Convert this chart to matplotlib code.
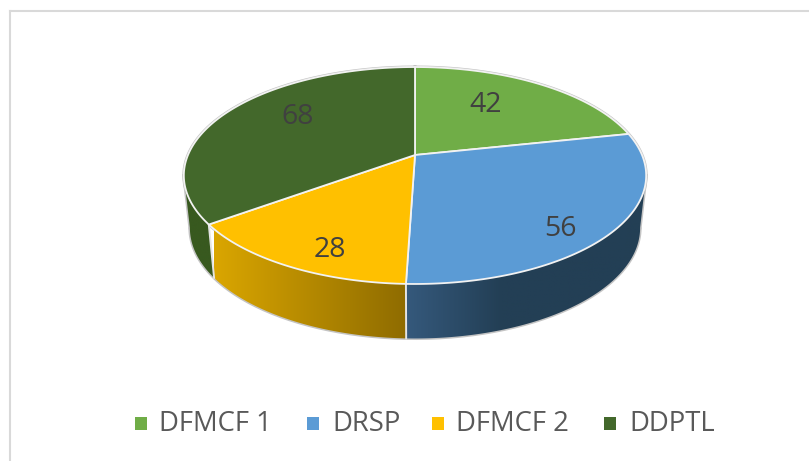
import numpy as np
import matplotlib
matplotlib.use("Agg")
import matplotlib.pyplot as plt
from matplotlib.colors import LinearSegmentedColormap
from matplotlib.patches import Polygon, Rectangle

categories = ["DFMCF 1", "DRSP", "DFMCF 2", "DDPTL"]
values = [42, 56, 28, 68]
colors = ["#70AD47", "#5B9BD5", "#FFC000", "#43682B"]

W, H = 809, 461
CX = 415
TOP = dict(a=227.0, b=104.6, cy=155.0, k=0.189)
BOT = dict(a=221.0, b=106.5, cy=207.0, k=0.19)


def project(theta, g):
    u, v = np.sin(theta), np.cos(theta)
    d = 1 + g["k"] * v
    return CX + g["a"] * u / d, g["cy"] - g["b"] * v / d


fig = plt.figure(figsize=(W / 100, H / 100), dpi=100)
ax = fig.add_axes([0, 0, 1, 1])
ax.axis("off")

# chart frame
ax.plot([10.5, 10.5], [H + 2, 11.5], color="#D9D9D9", lw=1.5, zorder=1)
ax.plot([10.5, W + 2], [11.5, 11.5], color="#D9D9D9", lw=1.5, zorder=1)

edges = np.radians(np.concatenate([[0], np.cumsum(values)]) * 360 / sum(values))
silhouette = np.pi - np.arccos(TOP["k"])  # side wall visible from here on
silhouette_end = 2 * np.pi - silhouette

# shading of each visible wall: (x start, x end, colour stops)
side_specs = {
    1: (406, 650, [(0.0, "#35597C"), (0.39, "#233F55"), (1.0, "#233F55")]),
    2: (214, 406, [(0.0, "#DAA600"), (1.0, "#8F6C00")]),
    3: (185, 214, [(0.0, "#38591F"), (1.0, "#38591F")]),
}

# outer grey outline of whole body
t_all = np.linspace(0, 2 * np.pi, 400)
tx, ty = project(t_all, TOP)
ts = np.linspace(silhouette, silhouette_end, 200)
bx, by = project(ts, BOT)
sx, sy = project(np.array([silhouette, silhouette_end]), TOP)
outline = dict(color="#C4C4C4", lw=2.2, zorder=2)
ax.plot(bx, by, solid_capstyle="round", **outline)
ax.plot([sx[0], bx[0]], [sy[0], by[0]], **outline)
ax.plot([sx[1], bx[-1]], [sy[1], by[-1]], **outline)
ax.plot(tx, ty, **outline)

# side walls: a horizontal gradient clipped to the wall's outline
for i, (x0, x1, stops) in side_specs.items():
    t0 = max(edges[i], silhouette)
    t1 = min(edges[i + 1], silhouette_end)
    ts = np.linspace(t0, t1, 200)
    xt, yt = project(ts, TOP)
    xb, yb = project(ts, BOT)
    pts = np.column_stack([np.r_[xt, xb[::-1]], np.r_[yt, yb[::-1]]])
    patch = Polygon(pts, closed=True, fc="none", ec="none", zorder=3)
    ax.add_patch(patch)
    cmap = LinearSegmentedColormap.from_list(f"wall{i}", stops)
    im = ax.imshow(np.linspace(0, 1, 256)[None, :], cmap=cmap, vmin=0, vmax=1,
                   extent=(x0, x1, 345, 170), aspect="auto", zorder=3,
                   interpolation="bilinear")
    im.set_clip_path(patch)
    if edges[i] >= silhouette:
        xe, ye = project(np.array([t0]), TOP)
        xf, yf = project(np.array([t0]), BOT)
        ax.plot([xe[0], xf[0]], [ye[0], yf[0]], color="#E4E4E4", lw=1.4, zorder=4)

# top face
for i, c in enumerate(colors):
    ts = np.linspace(edges[i], edges[i + 1], 200)
    x, y = project(ts, TOP)
    pts = np.column_stack([np.r_[CX, x], np.r_[TOP["cy"], y]])
    ax.add_patch(Polygon(pts, closed=True, fc=c, ec="#F2F2F2", lw=1.3,
                         joinstyle="round", zorder=5))

# data labels
label_xy = [(486, 105), (560, 229), (330, 250), (298, 117)]
for (lx, ly), val in zip(label_xy, values):
    ax.text(lx, ly, str(val), ha="center", va="center", fontsize=20.5,
            family="Open Sans", color="#404040", zorder=6)

# legend
marker_x = [135, 307, 432, 604]
text_x = [159, 332, 456, 629]
for mx, tx_, c, name in zip(marker_x, text_x, colors, categories):
    ax.add_patch(Rectangle((mx, 417), 12.5, 12.5, fc=c, ec="none", zorder=6))
    ax.text(tx_, 424, name, ha="left", va="center", fontsize=19.8,
            family="Open Sans", color="#595959", zorder=6)

ax.set_xlim(0, W)
ax.set_ylim(H, 0)
fig.savefig("out.png", dpi=100)
